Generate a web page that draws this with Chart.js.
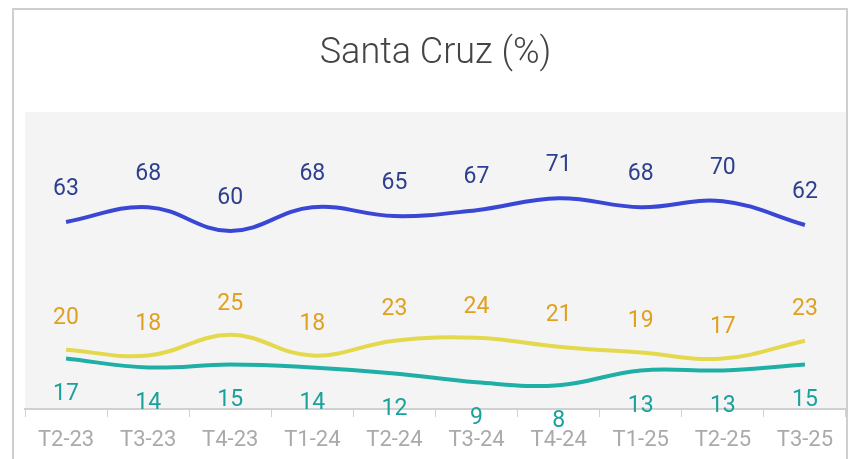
<!DOCTYPE html>
<html>
<head>
<meta charset="utf-8">
<script src="https://cdn.jsdelivr.net/npm/chart.js@4"></script>
<style>
html,body{margin:0;padding:0;background:#fff;}
#wrap{position:absolute;left:0;top:0;width:859px;height:459px;}
</style>
</head>
<body>
<div id="wrap"><canvas id="c" width="859" height="459"></canvas></div>
<script>
const categories = ['T2-23','T3-23','T4-23','T1-24','T2-24','T3-24','T4-24','T1-25','T2-25','T3-25'];
const seriesBlue = [63,68,60,68,65,67,71,68,70,62];
const seriesYellow = [20,18,25,18,23,24,21,19,17,23];
const seriesTeal = [17,14,15,14,12,9,8,13,13,15];
const titleText = 'Santa Cruz (%)';

const FONT = 'Roboto, "Noto Sans", sans-serif';

const bgPlugin = {
  id: 'bgPlugin',
  beforeDraw(chart) {
    const {ctx, chartArea: a} = chart;
    ctx.save();
    ctx.fillStyle = '#f4f4f4';
    ctx.fillRect(a.left, a.top, a.right - a.left, a.bottom - a.top);
    ctx.strokeStyle = '#cfcfcf';
    ctx.lineWidth = 2;
    ctx.strokeRect(13, 9, 834, 460);
    ctx.restore();
  }
};

const labelPlugin = {
  id: 'labelPlugin',
  afterDatasetsDraw(chart) {
    const {ctx} = chart;
    ctx.save();
    ctx.font = '23px ' + FONT;
    ctx.textAlign = 'center';
    ctx.textBaseline = 'middle';
    chart.data.datasets.forEach((ds, i) => {
      const meta = chart.getDatasetMeta(i);
      ctx.fillStyle = ds.labelColor;
      meta.data.forEach((pt, j) => {
        ctx.fillText(String(ds.data[j]), pt.x, pt.y + ds.labelOffset);
      });
    });
    ctx.restore();
  }
};

new Chart(document.getElementById('c'), {
  type: 'line',
  data: {
    labels: categories,
    datasets: [
      {data: seriesBlue, borderColor: '#3a47d5', borderWidth: 4, tension: 0.4, pointRadius: 0, labelColor: '#2e3f8f', labelOffset: -33},
      {data: seriesYellow, borderColor: '#e4d84c', borderWidth: 4, tension: 0.4, pointRadius: 0, labelColor: '#e0a020', labelOffset: -31},
      {data: seriesTeal, borderColor: '#20afa7', borderWidth: 4, tension: 0.4, pointRadius: 0, labelColor: '#1ba19b', labelOffset: 36}
    ]
  },
  options: {
    responsive: false,
    animation: false,
    layout: {padding: {left: 25, right: 13, top: 0, bottom: -4}},
    plugins: {
      legend: {display: false},
      tooltip: {enabled: false},
      title: {display: true, text: titleText, color: '#444', font: {family: FONT, size: 36, weight: '300'}, padding: {top: 32, bottom: 37}}
    },
    scales: {
      x: {
        offset: true,
        grid: {offset: true, drawOnChartArea: false, drawTicks: true, tickLength: 8, color: '#d0d0d0'},
        border: {display: true, color: '#d0d0d0', width: 2},
        ticks: {color: '#aaaaaa', font: {family: FONT, size: 22, lineHeight: 1}, padding: 12, maxRotation: 0}
      },
      y: {display: false, min: 0, max: 100}
    }
  },
  plugins: [bgPlugin, labelPlugin]
});
</script>
</body>
</html>
